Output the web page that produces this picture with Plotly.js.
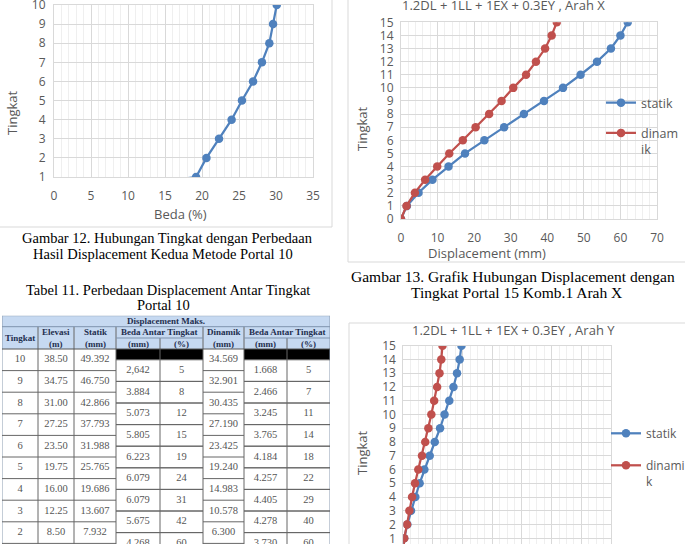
<!DOCTYPE html>
<html><head><meta charset="utf-8">
<script src="https://cdn.plot.ly/plotly-3.0.1.min.js"></script>
<style>html,body{margin:0;padding:0;background:#fff}#chart{width:685px;height:544px}</style>
</head><body><div id="chart"></div><script>
// ---- Chart 1 (Gambar 12): Tingkat vs Beda (%)
const g12Tingkat = [0,1,2,3,4,5,6,7,8,9,10];
const g12Beda = [0,19.2,20.6,22.3,24.0,25.4,26.9,28.1,29.1,29.6,30.1];
// ---- Chart 2 (Gambar 13): Arah X
const arahXTingkat = [0,1,2,3,4,5,6,7,8,9,10,11,12,13,14,15];
const arahXStatik = [0,1.6,4.8,8.6,13.0,17.5,22.8,28.2,33.6,39.1,44.3,49.1,53.6,57.4,60.0,62.0];
const arahXDinamik = [0,1.5,3.8,6.6,9.9,13.2,16.9,20.4,24.1,27.5,30.7,34.2,36.9,39.4,41.2,42.6];
// ---- Chart 3: Arah Y
const arahYTingkat = [0,1,2,3,4,5,6,7,8,9,10,11,12,13,14,15];
const arahYStatik = [0,0.3,1.35,2.6,4.05,5.5,7.1,8.9,10.6,12.4,13.9,15.5,16.9,18.1,19.0,19.6];
const arahYDinamik = [0,0.3,1.25,2.05,2.95,3.95,5.05,6.3,7.4,8.45,9.45,10.4,11.4,12.2,12.8,13.2];
// ---- Tabel 11
const tabTingkat = ['10','9','8','7','6','5','4','3','2'];
const tabElevasi = ['38.50','34.75','31.00','27.25','23.50','19.75','16.00','12.25','8.50'];
const tabStatik = ['49.392','46.750','42.866','37.793','31.988','25.765','19.686','13.607','7.932'];
const tabBedaStatikMm = ['2,642','3.884','5.073','5.805','6.223','6.079','6.079','5.675','4.268'];
const tabBedaStatikPct = ['5','8','12','15','19','24','31','42','60'];
const tabDinamik = ['34.569','32.901','30.435','27.190','23.425','19.240','14.983','10.578','6.300'];
const tabBedaDinamikMm = ['1.668','2.466','3.245','3.765','4.184','4.257','4.405','4.278','3.730'];
const tabBedaDinamikPct = ['5','7','11','14','18','22','29','40','60'];

const W=685,Hh=544;
const px=x=>x/W, py=y=>1-y/Hh;
const BLUE='#4F81BD', RED='#C0504D', GRID='#d9d9d9', MINOR='#efefef', TXT='#595959';
const SANS='Open Sans', SERIF='Liberation Serif';

const traces=[];
function series(x,y,color,name,xa,ya,leg,show){
  traces.push({type:'scatter',mode:'lines+markers',x:x,y:y,name:name,xaxis:xa,yaxis:ya,
    legend:leg,showlegend:show,legendgroup:name+xa,
    line:{color:color,width:2.25},marker:{color:color,size:8.5},hoverinfo:'skip'});
}
series(g12Beda,g12Tingkat,BLUE,'beda','x','y','legend',false);
series(arahXStatik,arahXTingkat,BLUE,'statik','x2','y2','legend',true);
series(arahXDinamik,arahXTingkat,RED,'dinam<br>ik','x2','y2','legend',true);
series(arahYStatik,arahYTingkat,BLUE,'statik','x3','y3','legend2',true);
series(arahYDinamik,arahYTingkat,RED,'dinami<br>k','x3','y3','legend2',true);

// ---- table geometry (x4/y4 units = pixels)
const colEdges=[0,36,72,114,158,201,242,285,328];
const H1=11,H2=11.3,H3=11,HB=H1+H2+H3,RH=21.6,TBOT=229;
const tabCols=[tabTingkat,tabElevasi,tabStatik,tabBedaStatikMm,tabBedaStatikPct,tabDinamik,tabBedaDinamikMm,tabBedaDinamikPct];
const stag=[0,0,0,1,1,0,1,1];
tabCols.forEach((col,c)=>{
  const cx=(colEdges[c]+colEdges[c+1])/2;
  traces.push({type:'scatter',mode:'text',xaxis:'x4',yaxis:'y4',showlegend:false,hoverinfo:'skip',cliponaxis:false,
    x:col.map(()=>cx), y:col.map((v,i)=>HB+(i+0.5)*RH+stag[c]*RH/2), text:col,
    textfont:{family:SERIF,size:10.5,color:'#555'}});
});

const shapes=[];
// chart frames
const frame={type:'rect',xref:'paper',yref:'paper',line:{color:'#d9d9d9',width:1},layer:'below'};
shapes.push(Object.assign({},frame,{x0:px(-2),x1:px(332),y0:py(227),y1:py(-2)}));
shapes.push(Object.assign({},frame,{x0:px(348),x1:px(687),y0:py(262),y1:py(-2)}));
shapes.push(Object.assign({},frame,{x0:px(349),x1:px(687),y0:py(546),y1:py(323)}));
// table
const T={xref:'x4',yref:'y4'};
const ln=(x0,y0,x1,y1,col)=>shapes.push(Object.assign({type:'line',x0,y0,x1,y1,line:{color:col||'#666',width:1}},T));
shapes.push(Object.assign({type:'rect',x0:0,x1:328,y0:0,y1:HB,fillcolor:'#c6d9f1',line:{width:0},layer:'below'},T));
[[3,5],[6,8]].forEach(([a,b])=>shapes.push(Object.assign({type:'rect',x0:colEdges[a],x1:colEdges[b],y0:HB,y1:HB+RH/2,fillcolor:'#000',line:{width:0}},T)));
colEdges.forEach((x,k)=>{
  const top=(k===0||k===8)?0:(k===4||k===7)?H1+H2:H1;
  ln(x,top,x,TBOT,(k===0||k===8)?'#8a9bb0':'#666');
});
ln(0,0,328,0,'#8a9bb0'); ln(0,H1,328,H1,'#7f93ad');
ln(114,H1+H2,201,H1+H2,'#7f93ad'); ln(242,H1+H2,328,H1+H2,'#7f93ad');
ln(0,HB,328,HB,'#555');
tabCols.forEach((col,c)=>{
  for(let k=1;k<=col.length;k++){
    const y=HB+k*RH+(stag[c]?RH/2-RH:0);
    if(y>HB && y<TBOT) ln(colEdges[c],y,colEdges[c+1],y);
    if(stag[c]){const y2=HB+k*RH+RH/2; if(y2<TBOT) ln(colEdges[c],y2,colEdges[c+1],y2);}
  }
});

const ann=[];
const pa=(text,x,y,size,opts)=>ann.push(Object.assign({text,x:px(x),y:py(y),xref:'paper',yref:'paper',showarrow:false,xanchor:'center',yanchor:'middle',font:{family:SERIF,size:size,color:'#000'}},opts||{}));
pa('Gambar 12. Hubungan Tingkat dengan Perbedaan',167,238,14.5);
pa('Hasil Displacement Kedua Metode Portal 10',163,254,14.5);
pa('Tabel 11. Perbedaan Displacement Antar Tingkat',168,290,14.5);
pa('Portal 10',163,305,14.5);
pa('Gambar 13. Grafik Hubungan Displacement dengan',513,276,15.5);
pa('Tingkat Portal 15 Komb.1 Arah X',516,292,15.5);
const sf=(s)=>({family:SANS,size:s,color:TXT});
pa('1.2DL + 1LL + 1EX + 0.3EY , Arah X',503,5,13,{font:sf(13)});
pa('1.2DL + 1LL + 1EX + 0.3EY , Arah Y',513,330,13,{font:sf(13)});
pa('Beda (%)',180,214,13,{font:sf(13)});
pa('Displacement (mm)',487,253,13,{font:sf(13)});
pa('Tingkat',12,113,13,{font:sf(13),textangle:-90});
pa('Tingkat',362,129,13,{font:sf(13),textangle:-90});
pa('Tingkat',362,453,13,{font:sf(13),textangle:-90});
// table headers
const th=(text,x,y)=>ann.push({text:'<b>'+text+'</b>',x,y,xref:'x4',yref:'y4',showarrow:false,xanchor:'center',yanchor:'middle',font:{family:SERIF,size:9,color:'#1f2f4f'}});
const r2=H1+H2/2, r3=H1+H2+H3/2, r23=H1+(H2+H3)/2;
th('Displacement Maks.',164,H1/2);
th('Tingkat',18,r23);
th('Elevasi',54,r2); th('(m)',54,r3);
th('Statik',93,r2); th('(mm)',93,r3);
th('Beda Antar Tingkat',157.5,r2); th('(mm)',136,r3); th('(%)',179.5,r3);
th('Dinamik',221.5,r2); th('(mm)',221.5,r3);
th('Beda Antar Tingkat',285,r2); th('(mm)',263.5,r3); th('(%)',306.5,r3);

const ax=(o)=>Object.assign({showgrid:true,gridcolor:GRID,gridwidth:1,zeroline:false,
  showline:true,mirror:true,linecolor:GRID,linewidth:1,ticklabeloverflow:'allow',
  ticks:'outside',tickcolor:'rgba(0,0,0,0)',tickfont:{family:SANS,size:12,color:TXT},fixedrange:true},o);
const layout={
  width:W,height:Hh,margin:{l:0,r:0,t:0,b:0,autoexpand:false},paper_bgcolor:'#fff',plot_bgcolor:'#fff',
  showlegend:true,
  xaxis:ax({domain:[px(54),px(313)],range:[0,35],dtick:5,tick0:0,ticklen:8,anchor:'y',
    minor:{dtick:1,showgrid:true,gridcolor:MINOR}}),
  yaxis:ax({domain:[py(177),py(5)],range:[1,10],dtick:1,tick0:0,ticklen:5,anchor:'x'}),
  xaxis2:ax({domain:[px(401),px(657)],range:[0,70],dtick:10,tick0:0,ticklen:8,anchor:'y2',
    minor:{dtick:2,showgrid:true,gridcolor:MINOR}}),
  yaxis2:ax({domain:[py(219),py(22.3)],range:[0,15],dtick:1,tick0:0,ticklen:4,anchor:'x2'}),
  xaxis3:ax({domain:[px(403.3),px(611)],range:[0,70],dtick:10,tick0:0,ticklen:8,anchor:'y3',showticklabels:false,
    minor:{dtick:2.5,showgrid:true,gridcolor:MINOR}}),
  yaxis3:ax({domain:[0,py(345.7)],range:[0.586,15],dtick:1,tick0:0,ticklen:4,anchor:'x3'}),
  xaxis4:{domain:[px(2),px(330)],range:[0,328],visible:false,anchor:'y4',fixedrange:true},
  yaxis4:{domain:[0,py(315.7)],range:[228.3,0],visible:false,anchor:'x4',fixedrange:true},
  legend:{x:px(601),y:py(88),xanchor:'left',yanchor:'top',bgcolor:'rgba(0,0,0,0)',valign:'top',
    font:{family:SANS,size:12.5,color:TXT},tracegroupgap:11,traceorder:'grouped',itemwidth:30},
  legend2:{x:px(606),y:py(419),xanchor:'left',yanchor:'top',bgcolor:'rgba(0,0,0,0)',valign:'top',
    font:{family:SANS,size:12,color:TXT},tracegroupgap:13,traceorder:'grouped',itemwidth:30},
  shapes:shapes,annotations:ann
};
Plotly.newPlot('chart',traces,layout,{displayModeBar:false,staticPlot:true});
</script></body></html>
